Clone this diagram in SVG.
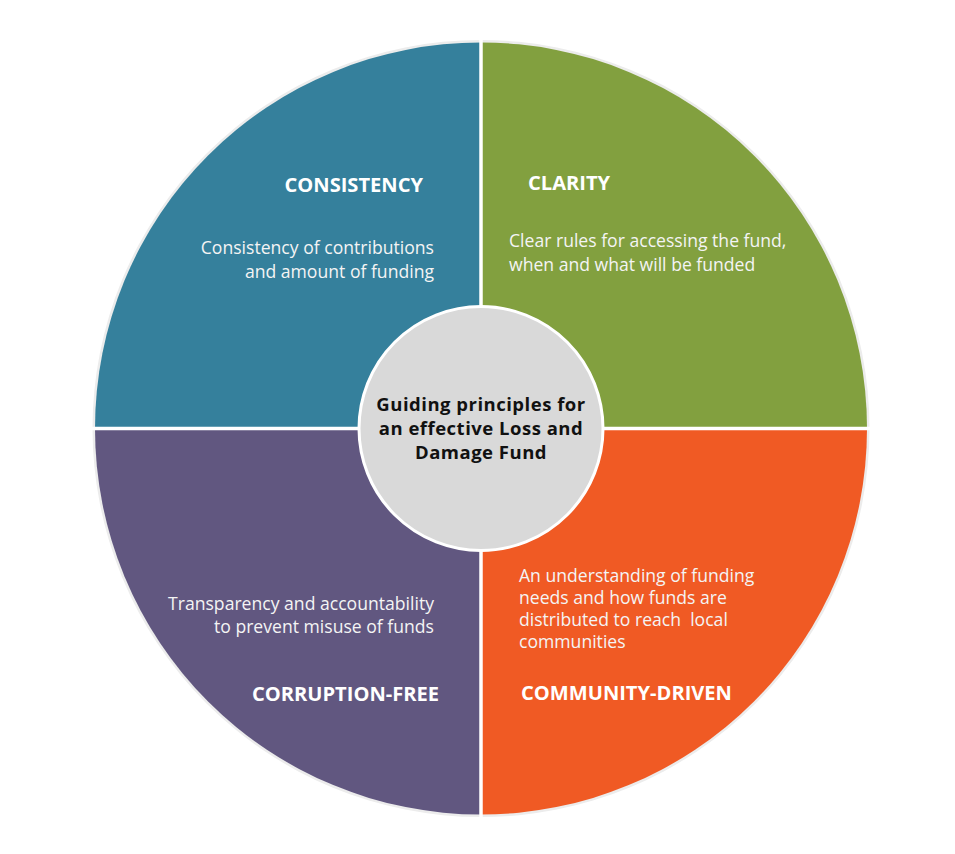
<svg xmlns="http://www.w3.org/2000/svg" width="955" height="854" viewBox="0 0 955 854">
<style>
.title{font-family:"Open Sans","Noto Sans",sans-serif;font-weight:bold;font-size:20.1px;fill:#ffffff}
.body{font-family:"Open Sans","Noto Sans",sans-serif;font-size:17.6px;fill:#f4f4f4}
.center{font-family:"Open Sans","Noto Sans",sans-serif;font-weight:bold;font-size:18.5px;letter-spacing:0.5px;fill:#111111}
.gap{stroke:#ffffff;stroke-width:3.5;fill:none}
</style>
<rect width="955" height="854" fill="#ffffff"/>
<circle cx="481" cy="428.5" r="388.5" fill="#ececec"/>
<g id="consistency">
<path d="M481,428.5 L95,428.5 A386,386 0 0 1 481,42.5 Z" fill="#35809C"/>
<text class="title" x="423" y="192" text-anchor="end">CONSISTENCY</text>
<text class="body" x="434" y="254" text-anchor="end">Consistency of contributions</text>
<text class="body" x="434" y="278" text-anchor="end">and amount of funding</text>
</g>
<g id="clarity">
<path d="M481,428.5 L481,42.5 A386,386 0 0 1 867,428.5 Z" fill="#82A03F"/>
<text class="title" x="528" y="190">CLARITY</text>
<text class="body" x="509" y="247">Clear rules for accessing the fund,</text>
<text class="body" x="509" y="271">when and what will be funded</text>
</g>
<g id="community-driven">
<path d="M481,428.5 L867,428.5 A386,386 0 0 1 481,814.5 Z" fill="#F05A24"/>
<text class="body" x="519" y="582">An understanding of funding</text>
<text class="body" x="519" y="604">needs and how funds are</text>
<text class="body" x="519" y="626" xml:space="preserve">distributed to reach  local</text>
<text class="body" x="519" y="648">communities</text>
<text class="title" x="521" y="700">COMMUNITY-DRIVEN</text>
</g>
<g id="corruption-free">
<path d="M481,428.5 L481,814.5 A386,386 0 0 1 95,428.5 Z" fill="#615780"/>
<text class="body" x="434" y="610" text-anchor="end">Transparency and accountability</text>
<text class="body" x="434" y="633" text-anchor="end">to prevent misuse of funds</text>
<text class="title" x="439" y="701" text-anchor="end">CORRUPTION-FREE</text>
</g>
<g id="connectors">
<line class="gap" x1="481" y1="40" x2="481" y2="817"/>
<line class="gap" x1="92" y1="428.5" x2="870" y2="428.5"/>
</g>
<g id="center">
<circle cx="481" cy="428.5" r="122" fill="#D9D9D9" stroke="#ffffff" stroke-width="3"/>
<text class="center" x="481" y="411" text-anchor="middle">Guiding principles for</text>
<text class="center" x="481" y="435" text-anchor="middle">an effective Loss and</text>
<text class="center" x="481" y="459" text-anchor="middle">Damage Fund</text>
</g>
</svg>
